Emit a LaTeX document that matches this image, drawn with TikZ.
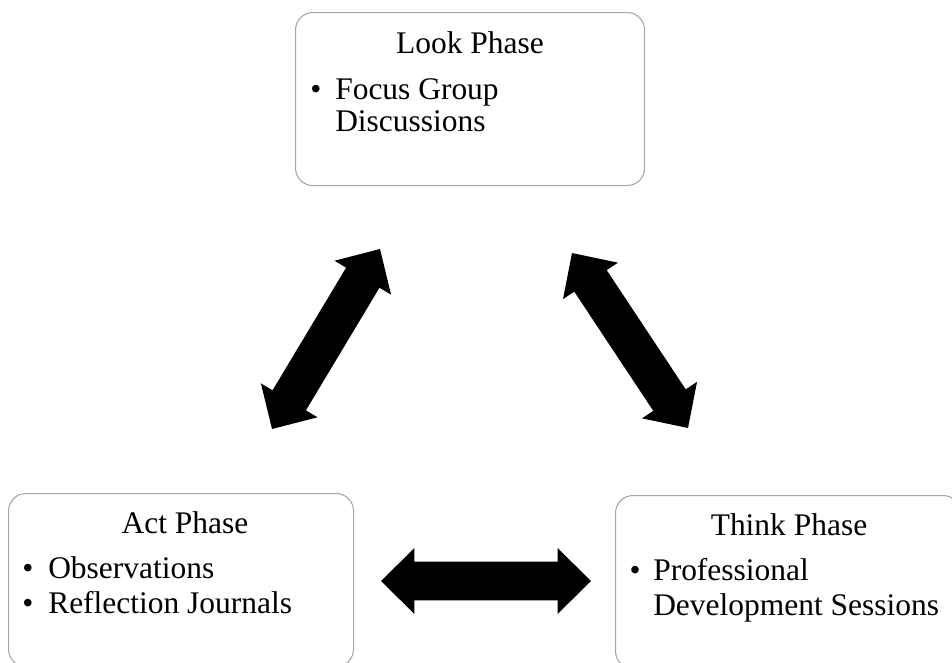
\documentclass[tikz,border=0pt]{standalone}
\usepackage{fontspec}
\setmainfont{Liberation Serif}
\usetikzlibrary{calc}
\definecolor{boxline}{HTML}{A6A6A6}
\newcommand\arhl{25.1pt}
\newcommand\arhw{24.75pt}
\newcommand\arsw{14.6pt}
\newcommand\myblockarrow[2]{%
  \fill[arrowfill] (#1)
    -- ($(#1)!\arhl!(#2)!\arhw!90:(#2)$)
    -- ($(#1)!\arhl!(#2)!\arsw!90:(#2)$)
    -- ($(#2)!\arhl!(#1)!\arsw!-90:(#1)$)
    -- ($(#2)!\arhl!(#1)!\arhw!-90:(#1)$)
    -- (#2)
    -- ($(#2)!\arhl!(#1)!\arhw!90:(#1)$)
    -- ($(#2)!\arhl!(#1)!\arsw!90:(#1)$)
    -- ($(#1)!\arhl!(#2)!\arsw!-90:(#2)$)
    -- ($(#1)!\arhl!(#2)!\arhw!-90:(#2)$)
    -- cycle;}
\tikzset{
  phasebox/.style={draw=boxline, line width=0.8pt, rounded corners=13pt, fill=white,
    anchor=north west, inner sep=0pt},
  txt/.style={inner sep=0pt, font=\fontsize{23.6pt}{28pt}\selectfont},
  ttl/.style={txt, anchor=base},
  bul/.style={txt, anchor=base},
  item/.style={txt, anchor=base west},
  arrowfill/.style={fill=black}
}
\begin{document}
\begin{tikzpicture}[x=0.75pt, y=-0.75pt]
\useasboundingbox (0,0) rectangle (952,662);
\clip (0,0) rectangle (952,662);
% boxes
\node[phasebox, minimum width=261.75pt, minimum height=129.75pt] (look) at (295,12) {};
\node[phasebox, minimum width=258.75pt, minimum height=129.75pt] (act) at (8,493) {};
\node[phasebox, minimum width=258.75pt, minimum height=129.75pt] (think) at (615,495) {};
% Look
\node[ttl] (lookt) at (470,53) {Look Phase};
\node[bul] (lookb1) at (316,99) {•};
\node[item] (lookl1) at (335,99) {Focus Group};
\node[item] (lookl2) at (335,131) {Discussions};
% Act
\node[ttl] (actt) at (185,533) {Act Phase};
\node[bul] (actb1) at (28,578) {•};
\node[item] (actl1) at (48,578) {Observations};
\node[bul] (actb2) at (28,613) {•};
\node[item] (actl2) at (48,613) {Reflection Journals};
% Think
\node[ttl] (thinkt) at (789,535) {Think Phase};
\node[bul] (thinkb1) at (635,580) {•};
\node[item] (thinkl1) at (653,580) {Professional};
\node[item] (thinkl2) at (653,615) {Development Sessions};
% arrow end points
\coordinate (la1) at (272,429);
\coordinate (la2) at (380,249);
\coordinate (ra1) at (572,253);
\coordinate (ra2) at (688,428);
\coordinate (ha1) at (381,581);
\coordinate (ha2) at (591,581);
\myblockarrow{la1}{la2}
\myblockarrow{ra1}{ra2}
\myblockarrow{ha1}{ha2}
\end{tikzpicture}
\end{document}
